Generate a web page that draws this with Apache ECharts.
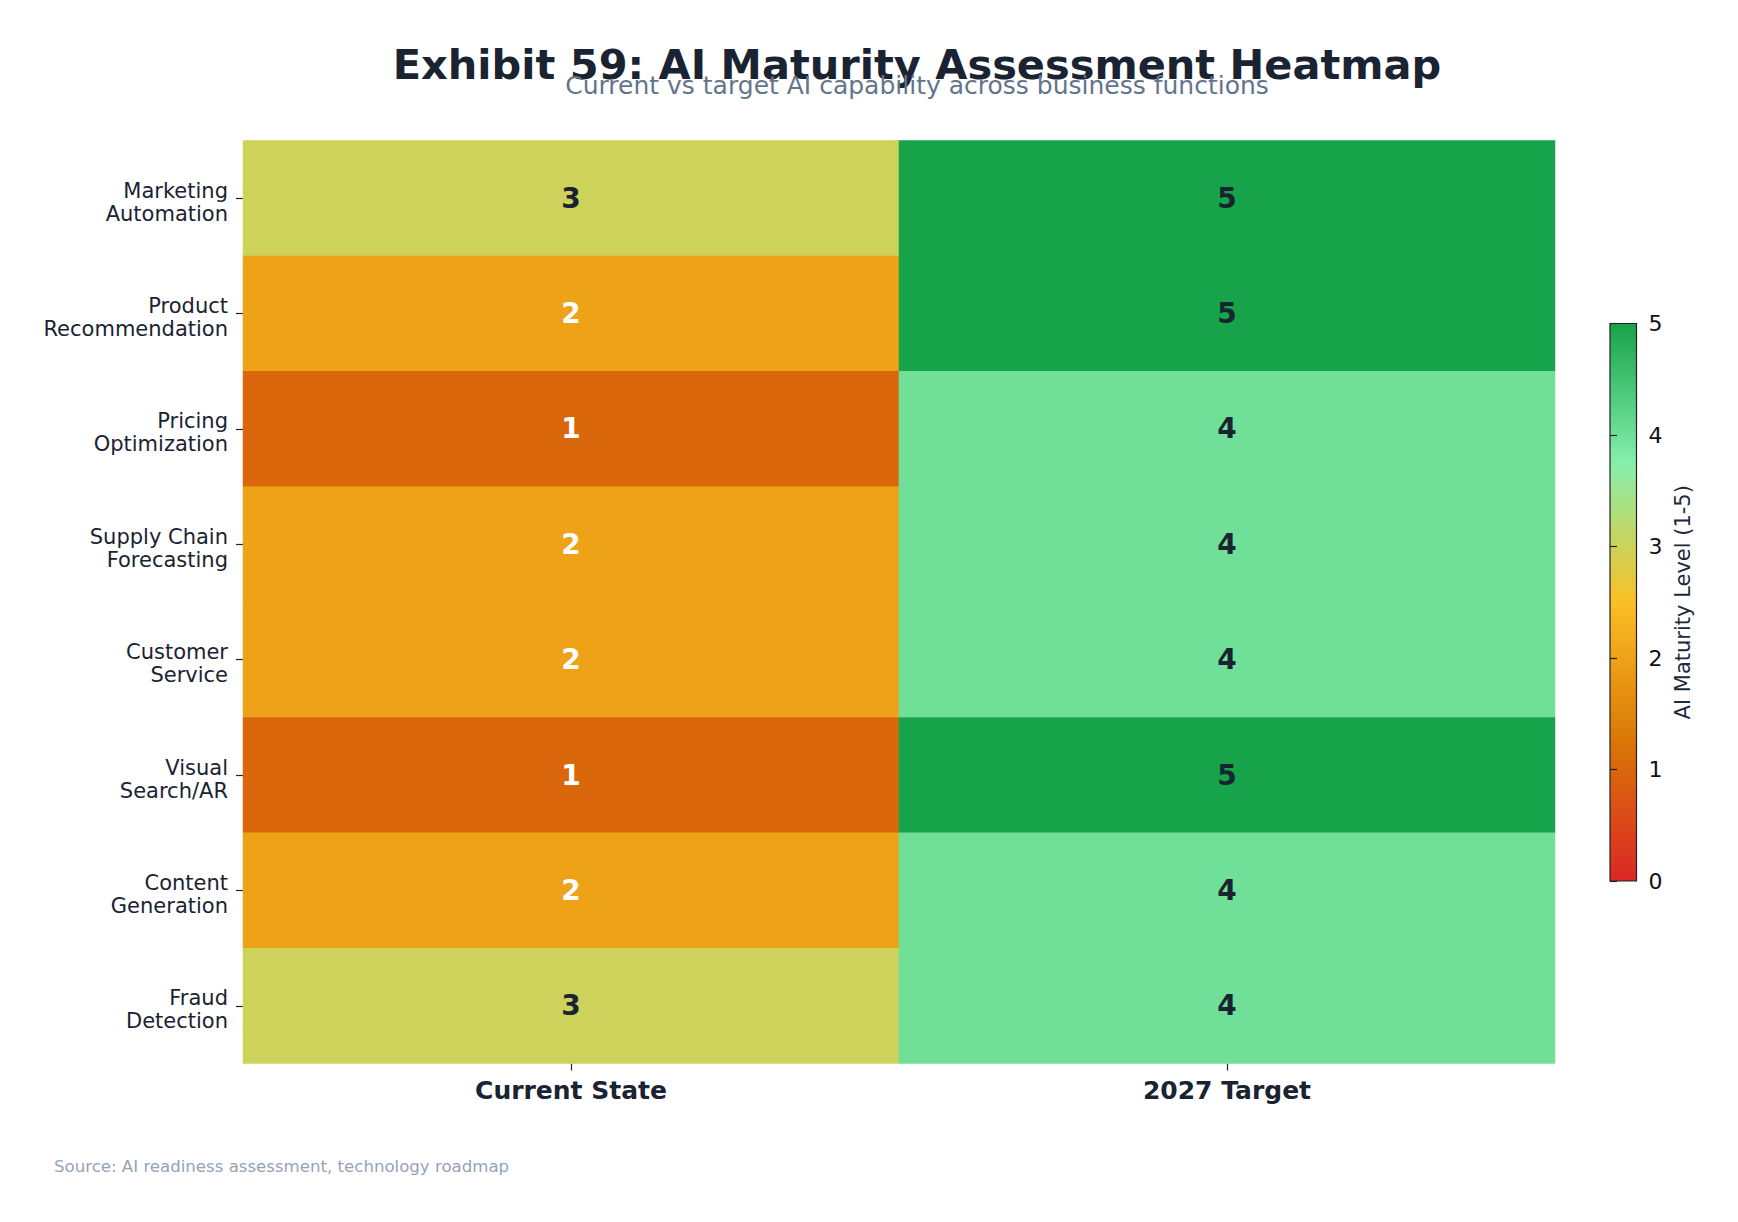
<!DOCTYPE html>
<html>
<head>
<meta charset="utf-8">
<script src="https://cdn.jsdelivr.net/npm/echarts@6/dist/echarts.min.js"></script>
<style>
html,body{margin:0;padding:0;background:#ffffff;}
#chart{width:1738px;height:1222px;}
</style>
</head>
<body>
<div id="chart"></div>
<script>
const functions = ['Marketing\nAutomation','Product\nRecommendation','Pricing\nOptimization','Supply Chain\nForecasting','Customer\nService','Visual\nSearch/AR','Content\nGeneration','Fraud\nDetection'];
const states = ['Current State','2027 Target'];
const currentState = [3,2,1,2,2,1,2,3];
const target2027 = [5,5,4,4,4,5,4,4];
const colorbarTicks = [0,1,2,3,4,5];
const cmapColors = ['#dc2626','#d97706','#fbbf24','#86efac','#16a34a'];

const FONT = '"DejaVu Sans", "Noto Sans", sans-serif';
const DARK = '#1a2332';

const seriesCols = [currentState, target2027];
const heatData = [];
seriesCols.forEach((col, xi) => {
  col.forEach((v, yi) => {
    heatData.push({
      value: [xi, yi, v],
      label: { color: v <= 2 ? '#ffffff' : DARK }
    });
  });
});

const chart = echarts.init(document.getElementById('chart'), null, {renderer: 'svg'});

const gradStops = cmapColors.map((c, i) => ({offset: i / (cmapColors.length - 1), color: c}));

const option = {
  backgroundColor: '#ffffff',
  textStyle: {fontFamily: FONT},
  animation: false,
  grid: [
    {left: 243, top: 140.5, width: 1312, height: 923, show: false},
    {left: 1610, top: 323.5, width: 26.5, height: 557.5, show: true, borderColor: '#222222', borderWidth: 1.2,
     backgroundColor: new echarts.graphic.LinearGradient(0, 1, 0, 0, gradStops)}
  ],
  xAxis: [
    {
      type: 'category', gridIndex: 0, data: states, position: 'bottom',
      axisLine: {show: false},
      axisTick: {show: true, alignWithLabel: true, length: 7, lineStyle: {color: '#222222', width: 1.2}},
      axisLabel: {fontFamily: FONT, fontSize: 25, fontWeight: 'bold', color: DARK, margin: 14},
      splitArea: {show: false}, splitLine: {show: false}
    },
    {type: 'value', gridIndex: 1, show: false, min: 0, max: 1}
  ],
  yAxis: [
    {
      type: 'category', gridIndex: 0, data: functions, inverse: true,
      axisLine: {show: false},
      axisTick: {show: true, alignWithLabel: true, length: 7, lineStyle: {color: '#222222', width: 1.2}},
      axisLabel: {fontFamily: FONT, fontSize: 21, color: DARK, margin: 15, lineHeight: 23, align: 'right',
                  formatter: v => '{t|' + v.split('\n').join('}\n{t|') + '}',
                  rich: {t: {fontFamily: FONT, fontSize: 21, color: DARK, lineHeight: 23, align: 'right'}},
                  padding: [8, 0, 0, 0]},
      splitArea: {show: false}, splitLine: {show: false}
    },
    {
      type: 'value', gridIndex: 1, position: 'right', min: 0, max: 5, interval: 1,
      data: colorbarTicks,
      axisLine: {show: false},
      axisTick: {show: true, length: 7, lineStyle: {color: '#222222', width: 1.2}},
      axisLabel: {fontFamily: FONT, fontSize: 22, color: '#111111', margin: 12},
      splitLine: {show: false},
      name: 'AI Maturity Level (1-5)', nameLocation: 'middle', nameRotate: 90, nameGap: 36,
      nameTextStyle: {fontFamily: FONT, fontSize: 21, color: '#1e293b'}
    }
  ],
  visualMap: {
    show: false, type: 'continuous', min: 0, max: 5, dimension: 2, seriesIndex: 0,
    inRange: {color: cmapColors}
  },
  series: [{
    type: 'heatmap', xAxisIndex: 0, yAxisIndex: 0,
    data: heatData,
    label: {show: true, fontFamily: FONT, fontSize: 28, fontWeight: 'bold',
            formatter: p => String(p.value[2])},
    itemStyle: {borderWidth: 0},
    emphasis: {disabled: true}
  }],
  graphic: [
    {type: 'text', x: 917, y: 64, z: 10, style: {text: 'Exhibit 59: AI Maturity Assessment Heatmap', fontFamily: FONT, fontSize: 41.5, fontWeight: 'bold', fill: DARK, align: 'center', verticalAlign: 'middle'}},
    {type: 'text', x: 917, y: 85, z: 11, style: {text: 'Current vs target AI capability across business functions', fontFamily: FONT, fontSize: 25, fill: '#64748b', align: 'center', verticalAlign: 'middle'}},
    {type: 'text', x: 54, y: 1166, z: 10, style: {text: 'Source: AI readiness assessment, technology roadmap', fontFamily: FONT, fontSize: 16.6, fill: '#94a3b8', align: 'left', verticalAlign: 'middle'}}
  ]
};
chart.setOption(option);
</script>
</body>
</html>
